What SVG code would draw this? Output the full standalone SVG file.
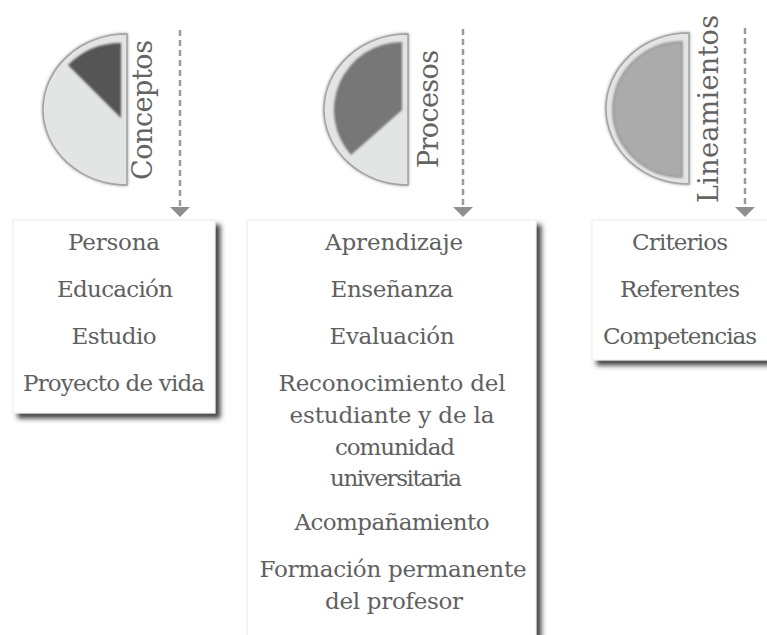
<svg xmlns="http://www.w3.org/2000/svg" width="767" height="635" viewBox="0 0 767 635">
<defs>
<filter id="boxShadow" x="-10%" y="-10%" width="130%" height="130%">
<feDropShadow dx="5" dy="5" stdDeviation="2.5" flood-color="#333333" flood-opacity="0.9"/>
</filter>
<filter id="glow" x="-10%" y="-10%" width="120%" height="120%">
<feDropShadow dx="0" dy="0" stdDeviation="1.6" flood-color="#777" flood-opacity="0.8"/>
</filter>
<filter id="soft" x="-10%" y="-10%" width="120%" height="120%">
<feGaussianBlur stdDeviation="0.9"/>
</filter>
</defs>
<style>
.outer{fill:#e3e4e4;stroke:#a3a3a3;stroke-width:1.5}
.title{font-family:"DejaVu Serif","Liberation Serif",serif;font-size:27px;fill:#646464;text-anchor:middle}
.item{font-family:"DejaVu Serif","Liberation Serif",serif;font-size:23px;fill:#606060;text-anchor:middle}
.box{fill:#ffffff;stroke:#ececec;stroke-width:1}
.dash{stroke:#9a9a9a;stroke-width:2.5;stroke-dasharray:6 4;fill:none}
.head{fill:#8f8f8f}
</style>

<g id="connectors">
<line class="dash" x1="180" y1="30" x2="180" y2="207"/>
<polygon class="head" points="170,207 190,207 180,217"/>
<line class="dash" x1="463" y1="29" x2="463" y2="207"/>
<polygon class="head" points="453,207 473,207 463,217"/>
<line class="dash" x1="745" y1="28" x2="745" y2="207"/>
<polygon class="head" points="735,207 755,207 745,217"/>
</g>

<g id="conceptos">
<path class="outer" filter="url(#glow)" d="M127,34 A84,75.5 0 0 0 127,185 Z"/>
<path fill="#555555" filter="url(#soft)" d="M121,118 L121,43 A75,75 0 0 0 68,65 Z"/>
<text class="title" transform="translate(152,110) rotate(-90)" textLength="140">Conceptos</text>
</g>

<g id="procesos">
<path class="outer" filter="url(#glow)" d="M408,34 A84,75.5 0 0 0 408,185 Z"/>
<path fill="#777777" filter="url(#soft)" d="M402,110 L402,42 A68,68 0 0 0 351,155 Z"/>
<text class="title" transform="translate(438,109) rotate(-90)" textLength="118">Procesos</text>
</g>

<g id="lineamientos">
<path class="outer" filter="url(#glow)" d="M689,33 A83,75.5 0 0 0 689,184 Z"/>
<path fill="#ababab" stroke="#8a8a8a" stroke-width="1.5" filter="url(#soft)" d="M682,42 A69,67.5 0 0 0 682,177 Z"/>
<text class="title" transform="translate(718,109) rotate(-90)" textLength="188">Lineamientos</text>
</g>

<g id="lista-conceptos">
<rect class="box" filter="url(#boxShadow)" x="13" y="220" width="202" height="193"/>
<text class="item" x="114" y="250" textLength="92">Persona</text>
<text class="item" x="115" y="297" textLength="116">Educación</text>
<text class="item" x="114" y="344" textLength="85">Estudio</text>
<text class="item" x="114" y="391" textLength="182">Proyecto de vida</text>
</g>

<g id="lista-procesos">
<rect class="box" filter="url(#boxShadow)" x="247" y="220" width="289" height="440"/>
<text class="item" x="394" y="250" textLength="138">Aprendizaje</text>
<text class="item" x="392" y="297" textLength="123">Enseñanza</text>
<text class="item" x="392" y="344" textLength="125">Evaluación</text>
<text class="item" x="392" y="391" textLength="227">Reconocimiento del</text>
<text class="item" x="392" y="423" textLength="205">estudiante y de la</text>
<text class="item" x="395" y="455" textLength="120">comunidad</text>
<text class="item" x="396" y="486" textLength="132">universitaria</text>
<text class="item" x="392" y="530" textLength="195">Acompañamiento</text>
<text class="item" x="393" y="577" textLength="267">Formación permanente</text>
<text class="item" x="394" y="609" textLength="138">del profesor</text>
</g>

<g id="lista-lineamientos">
<rect class="box" filter="url(#boxShadow)" x="592" y="220" width="190" height="140"/>
<text class="item" x="680" y="250" textLength="96">Criterios</text>
<text class="item" x="680" y="297" textLength="120">Referentes</text>
<text class="item" x="680" y="344" textLength="154">Competencias</text>
</g>
</svg>
